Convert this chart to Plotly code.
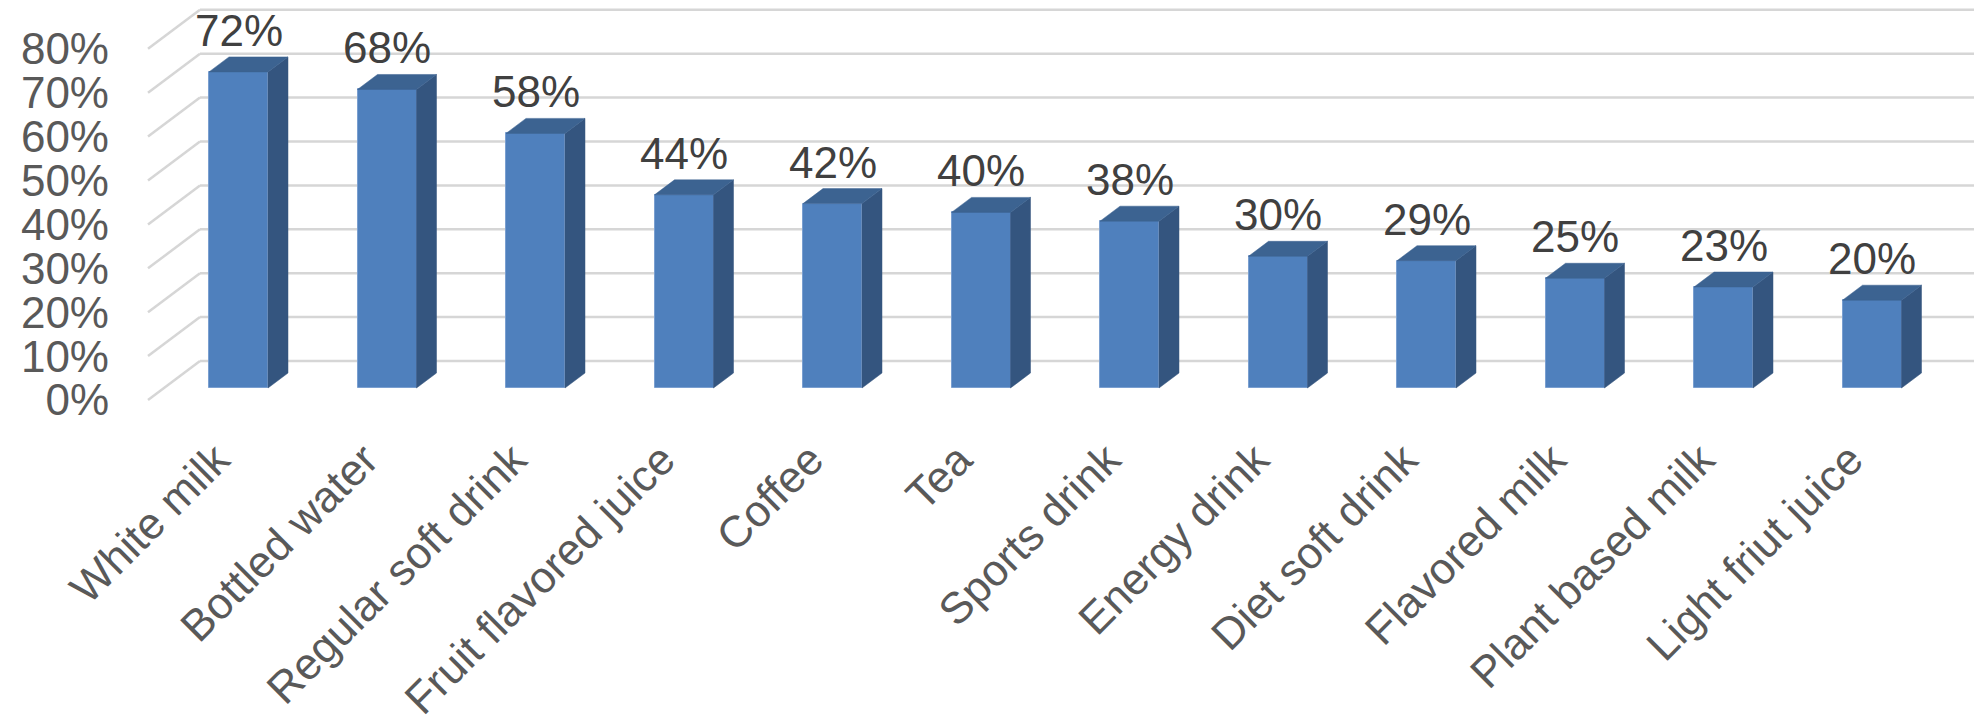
import plotly.graph_objects as go

# ---------------- data ----------------
categories = ["White milk", "Bottled water", "Regular soft drink", "Fruit flavored juice",
              "Coffee", "Tea", "Sports drink", "Energy drink", "Diet soft drink",
              "Flavored milk", "Plant based milk", "Light friut juice"]
values = [72, 68, 58, 44, 42, 40, 38, 30, 29, 25, 23, 20]
y_ticks = [0, 10, 20, 30, 40, 50, 60, 70, 80]
y_tick_labels = ["0%", "10%", "20%", "30%", "40%", "50%", "60%", "70%", "80%"]

# ---------------- geometry (pixel calibration) ----------------
W, H = 1974, 724
X0_PX, CAT_PX = 238.5, 148.5      # pixel of first category centre, pixels per category
Y0_PX, PCT_PX = 388.0, 4.39       # pixel of 0% at bar-front plane, pixels per percent
PLOT_L, PLOT_B = 110, 410         # plot-area left pixel / bottom pixel

x_range = [(PLOT_L - X0_PX) / CAT_PX, (W - X0_PX) / CAT_PX]
y_range = [(Y0_PX - PLOT_B) / PCT_PX, Y0_PX / PCT_PX]


def dxp(px):
    return px / CAT_PX


def dyp(px):
    return px / PCT_PX


bar_w = dxp(59)
bar_depth = (dxp(20), dyp(15))
wall_off = (dxp(36), dyp(27))      # back wall relative to bar front plane
front_off = (dxp(-16), dyp(-12))   # floor front edge relative to bar front plane
floor_left = (148 - X0_PX) / CAT_PX
back_left = floor_left + wall_off[0] - front_off[0]
label_shift = dxp(-22)

GRID = "#d6d6d6"
FRONT = "#4f80bd"
SIDE = "#34557f"
TOP = "#3c6391"

fig = go.Figure()

# bars (front faces)
xs = list(range(len(categories)))
fig.add_trace(go.Bar(x=xs, y=values, width=bar_w,
                     marker=dict(color=FRONT, line=dict(color="#7a9fd0", width=1)),
                     hoverinfo="skip", showlegend=False))

# side and top faces
side_x, side_y, top_x, top_y = [], [], [], []
bdx, bdy = bar_depth
for i, v in zip(xs, values):
    r = i + bar_w / 2
    l = i - bar_w / 2
    side_x += [r, r + bdx, r + bdx, r, r, None]
    side_y += [0, bdy, v + bdy, v, 0, None]
    top_x += [l, r, r + bdx, l + bdx, l, None]
    top_y += [v, v, v + bdy, v + bdy, v, None]

fig.add_trace(go.Scatter(x=side_x, y=side_y, mode="lines", fill="toself",
                         fillcolor=SIDE, line=dict(color=SIDE, width=0.5),
                         hoverinfo="skip", showlegend=False))
fig.add_trace(go.Scatter(x=top_x, y=top_y, mode="lines", fill="toself",
                         fillcolor=TOP, line=dict(color=TOP, width=0.5),
                         hoverinfo="skip", showlegend=False))

# gridlines on back wall and side wall
shapes = []
for v in y_ticks:
    shapes.append(dict(type="line", xref="x", yref="y", layer="below",
                       x0=back_left, x1=x_range[1], y0=v + wall_off[1], y1=v + wall_off[1],
                       line=dict(color=GRID, width=2.5)))
    shapes.append(dict(type="line", xref="x", yref="y", layer="below",
                       x0=floor_left, x1=back_left, y0=v + front_off[1], y1=v + wall_off[1],
                       line=dict(color=GRID, width=2.5)))

# data labels
annotations = []
for i, v in zip(xs, values):
    annotations.append(dict(x=i, y=v + bdy, xref="x", yref="y", text=f"{v}%",
                            showarrow=False, yanchor="bottom", xanchor="center",
                            font=dict(family="Liberation Sans", size=44, color="#404040")))

fig.update_layout(
    width=W, height=H,
    margin=dict(l=PLOT_L, r=0, t=0, b=H - PLOT_B, pad=0),
    paper_bgcolor="white", plot_bgcolor="white",
    shapes=shapes, annotations=annotations,
    bargap=0, showlegend=False,
    xaxis=dict(range=x_range, tickmode="array", tickvals=[i + label_shift for i in xs],
               ticktext=categories, tickangle=-45, showgrid=False, zeroline=False,
               showline=False, ticks="", ticklabelstandoff=14,
               tickfont=dict(family="Liberation Sans", size=44, color="#595959")),
    yaxis=dict(range=y_range, tickmode="array", tickvals=[v + front_off[1] for v in y_ticks],
               ticktext=y_tick_labels, showgrid=False, zeroline=False, showline=False,
               ticks="", tickfont=dict(family="Liberation Sans", size=44, color="#595959")),
)

fig.write_html("out.html")
